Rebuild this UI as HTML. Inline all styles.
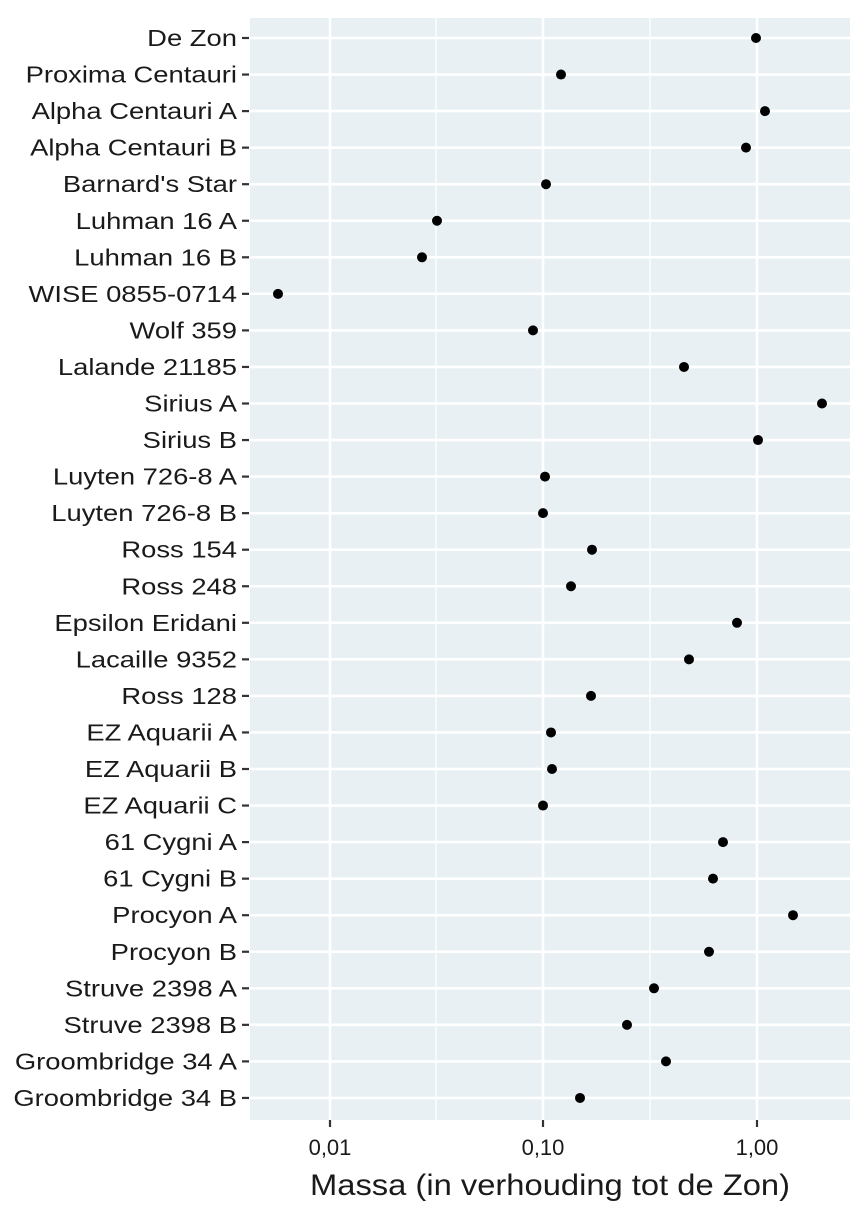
<!DOCTYPE html>
<html><head><meta charset="utf-8"><style>
body{margin:0;background:#fff;}
svg text{font-family:"Liberation Sans","DejaVu Sans",sans-serif;fill:#1a1a1a;}
</style></head><body>
<svg width="864" height="1216" xmlns="http://www.w3.org/2000/svg">
<rect x="250" y="18" width="600" height="1102" fill="#e8f0f4"/>
<g stroke="#fff" stroke-width="1.3">
<line x1="436" y1="18" x2="436" y2="1120"/><line x1="650" y1="18" x2="650" y2="1120"/>
</g>
<g stroke="#fff" stroke-width="2.6" id="g"></g>
<g id="p"></g>
<g id="l" font-size="23" text-anchor="end"></g>
<g stroke="#333" stroke-width="2.2">
<line x1="330" y1="1120" x2="330" y2="1127"/><line x1="543" y1="1120" x2="543" y2="1127"/><line x1="757" y1="1120" x2="757" y2="1127"/>
</g>
<g font-size="22" text-anchor="middle">
<text x="330" y="1155">0,01</text><text x="543" y="1155">0,10</text><text x="757" y="1155">1,00</text>
</g>
<text x="310" y="1195" font-size="30" textLength="480" lengthAdjust="spacingAndGlyphs">Massa (in verhouding tot de Zon)</text>
</svg>
<script>
const names=["De Zon","Proxima Centauri","Alpha Centauri A","Alpha Centauri B","Barnard's Star","Luhman 16 A","Luhman 16 B","WISE 0855-0714","Wolf 359","Lalande 21185","Sirius A","Sirius B","Luyten 726-8 A","Luyten 726-8 B","Ross 154","Ross 248","Epsilon Eridani","Lacaille 9352","Ross 128","EZ Aquarii A","EZ Aquarii B","EZ Aquarii C","61 Cygni A","61 Cygni B","Procyon A","Procyon B","Struve 2398 A","Struve 2398 B","Groombridge 34 A","Groombridge 34 B"];
const xs=[756,561,765,746,546,437,422,278,533,684,822,758,545,543,592,571,737,689,591,551,552,543,723,713,793,709,654,627,666,580];
const ns="http://www.w3.org/2000/svg";
const g=document.getElementById('g'),p=document.getElementById('p'),l=document.getElementById('l');
function el(t,a,par){const e=document.createElementNS(ns,t);for(const k in a)e.setAttribute(k,a[k]);par.appendChild(e);return e;}
[330,543,757].forEach(x=>el('line',{x1:x,y1:18,x2:x,y2:1120},g));
names.forEach((n,i)=>{const y=38+i*36.55;
el('line',{x1:250,y1:y,x2:850,y2:y},g);
el('circle',{cx:xs[i],cy:y,r:5,fill:'#000'},p);
el('line',{x1:242,y1:y,x2:249,y2:y,stroke:'#333','stroke-width':2.2},l);
const t=el('text',{x:237,y:y+8},l);t.textContent=n;
const w=t.getComputedTextLength();t.setAttribute('textLength',(w*1.19).toFixed(1));t.setAttribute('lengthAdjust','spacingAndGlyphs');});
</script>
</body></html>
